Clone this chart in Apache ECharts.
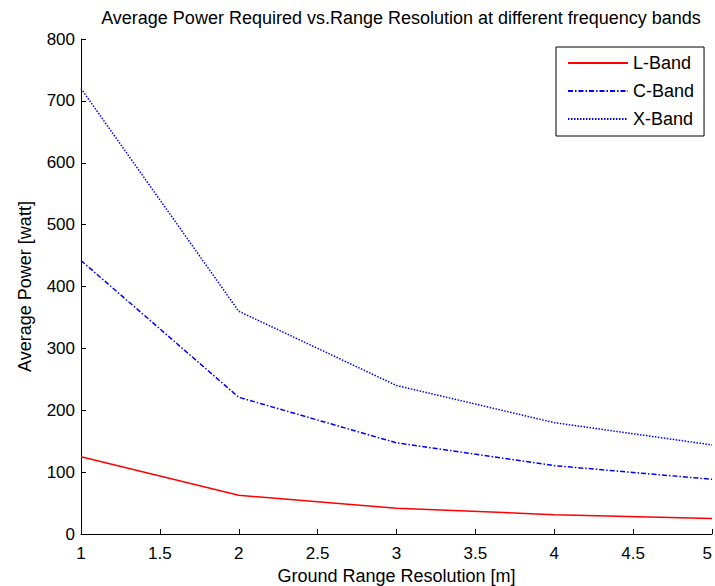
<!DOCTYPE html>
<html>
<head>
<meta charset="utf-8">
<script src="https://cdn.jsdelivr.net/npm/echarts@6/dist/echarts.min.js"></script>
<style>
  html, body { margin: 0; padding: 0; background: #fff; }
  #chart { width: 715px; height: 586px; }
</style>
</head>
<body>
<div id="chart"></div>
<script>
// values
var resolution = [1, 2, 3, 4, 5];
var lBand = [125, 62.5, 41.7, 31.3, 25];
var cBand = [442, 221, 147.3, 110.5, 88.4];
var xBand = [720, 360, 240, 180, 144];

var font = 'Liberation Sans, Arial, sans-serif';

function pairs(ys) {
  return resolution.map(function(x, i) { return [x, ys[i]]; });
}

var chart = echarts.init(document.getElementById('chart'), null, { renderer: 'svg' });
chart.setOption({
  animation: false,
  textStyle: { fontFamily: font },
  title: {
    text: 'Average Power Required vs.Range Resolution at different frequency bands',
    left: 396,
    textAlign: 'center',
    top: 4,
    textStyle: { fontSize: 18, fontWeight: 'normal', color: '#000', fontFamily: font }
  },
  legend: {
    orient: 'vertical',
    left: 556,
    top: 47,
    itemWidth: 60,
    itemHeight: 18,
    itemGap: 10,
    padding: [7, 10, 8, 11],
    borderColor: '#000',
    borderWidth: 1,
    backgroundColor: '#fff',
    itemStyle: { opacity: 0 },
    textStyle: { fontSize: 18, color: '#000', fontFamily: font },
    data: ['L-Band', 'C-Band', 'X-Band']
  },
  grid: { left: 81, right: 3, top: 39, bottom: 52, containLabel: false, outerBoundsMode: 'none' },
  xAxis: {
    type: 'value',
    min: 1,
    max: 5,
    interval: 0.5,
    name: 'Ground Range Resolution [m]',
    nameLocation: 'middle',
    nameGap: 33,
    nameTextStyle: { fontSize: 18, color: '#000' },
    axisLine: { onZero: false, lineStyle: { color: '#000', width: 1 } },
    axisTick: { inside: true, length: 5, lineStyle: { color: '#000' } },
    axisLabel: {
      fontSize: 17, color: '#000', margin: 11,
      showMinLabel: true, showMaxLabel: true, alignMaxLabel: 'right'
    },
    splitLine: { show: false }
  },
  yAxis: {
    type: 'value',
    min: 0,
    max: 800,
    interval: 100,
    name: 'Average Power [watt]',
    nameLocation: 'middle',
    nameGap: 47,
    nameTextStyle: { fontSize: 18, color: '#000' },
    axisLine: { show: true, lineStyle: { color: '#000', width: 1 } },
    axisTick: { show: true, inside: true, length: 5, lineStyle: { color: '#000' } },
    axisLabel: { fontSize: 17, color: '#000', margin: 6 },
    splitLine: { show: false }
  },
  series: [
    {
      name: 'L-Band',
      type: 'line',
      symbol: 'none',
      data: pairs(lBand),
      color: '#ff0000',
      lineStyle: { color: '#ff0000', width: 1.5, type: 'solid' }
    },
    {
      name: 'C-Band',
      type: 'line',
      symbol: 'none',
      data: pairs(cBand),
      color: '#0000ff',
      lineStyle: { color: '#0000ff', width: 1.5, type: [5, 2, 1.5, 2] }
    },
    {
      name: 'X-Band',
      type: 'line',
      symbol: 'none',
      data: pairs(xBand),
      color: '#0000ff',
      lineStyle: { color: '#0000ff', width: 1.5, type: [1.5, 1.5] }
    }
  ]
});
</script>
</body>
</html>
